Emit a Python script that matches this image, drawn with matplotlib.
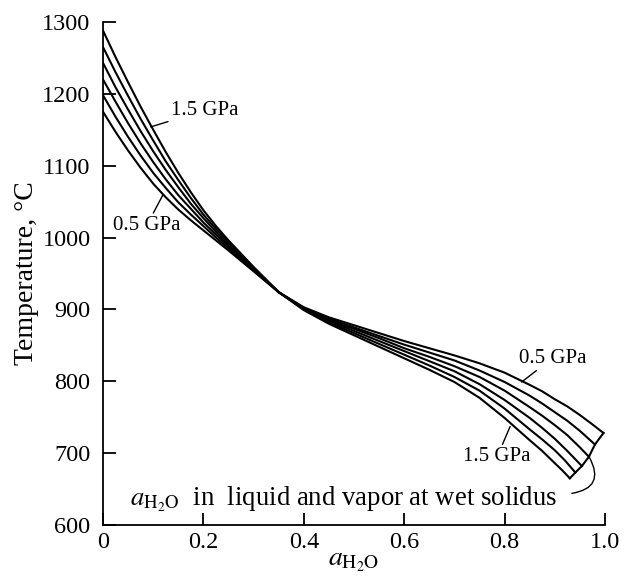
import matplotlib
matplotlib.use("Agg")
import matplotlib.pyplot as plt

plt.rcParams['font.family'] = ['Liberation Serif', 'DejaVu Serif']
plt.rcParams['mathtext.fontset'] = 'stix'

# a_H2O grid
x = [0, 0.025, 0.05, 0.075, 0.1, 0.125, 0.15, 0.175, 0.2, 0.225, 0.25,
     0.3, 0.35, 0.4, 0.45, 0.5, 0.55, 0.6, 0.65, 0.7, 0.75, 0.8,
     0.85, 0.875, 0.9]

pressures = ['0.5 GPa', '0.7 GPa', '0.9 GPa', '1.1 GPa', '1.3 GPa', '1.5 GPa']

# temperatures (deg C) along each curve
t_05 = [1175, 1147, 1121, 1097, 1075, 1056, 1039, 1024, 1010, 996, 982,
        953, 924, 903, 889, 878, 867, 856, 846, 836, 825, 812, 795, 786, 775]
t_07 = [1198, 1168, 1140, 1114, 1090, 1069, 1049, 1032, 1016, 1000, 985,
        954, 924, 902, 887, 875, 863, 851, 840, 829, 815, 799, 780, 769, 757]
t_09 = [1220, 1189, 1159, 1131, 1105, 1081, 1059, 1040, 1021, 1004, 988,
        955, 924, 901, 885, 873, 860, 846, 834, 821, 806, 787, 764, 752, 739]
t_11 = [1243, 1209, 1178, 1148, 1120, 1094, 1070, 1047, 1027, 1008, 990,
        957, 924, 901, 884, 870, 856, 842, 828, 814, 796, 774, 749, 735, 720]
t_13 = [1265, 1230, 1197, 1165, 1135, 1106, 1080, 1055, 1032, 1012, 993,
        958, 924, 900, 882, 867, 852, 837, 822, 806, 787, 762, 733, 719, 704]
t_15 = [1288, 1251, 1216, 1182, 1150, 1119, 1090, 1063, 1038, 1016, 996,
        959, 924, 899, 880, 864, 848, 832, 816, 799, 777, 749, 718, 703, 686]

# tail of each curve down to the wet solidus
tail_x = [[0.925, 0.95, 0.975, 0.997], [0.925, 0.95, 0.98], [0.925, 0.95, 0.968],
          [0.925, 0.954], [0.92, 0.941], [0.915, 0.93]]
tail_t = [[765, 753, 740, 728], [745, 731, 712], [725, 708, 695],
          [703, 682], [690, 673], [676, 665]]

curves = [t_05, t_07, t_09, t_11, t_13, t_15]

fig = plt.figure(figsize=(6.29, 5.79), dpi=100)
ax = fig.add_axes([0.1638, 0.0933, 0.798, 0.8687])

end_x, end_t = [], []
for t, tx, tt in zip(curves, tail_x, tail_t):
    ax.plot(x + tx, t + tt, color='black', lw=1.5)
    end_x.append(tx[-1])
    end_t.append(tt[-1])

# wet solidus line through the curve ends
ax.plot(end_x, end_t, color='black', lw=1.5)

fs = 15
lk = dict(arrowstyle='-', color='black', lw=1.0, shrinkA=0, shrinkB=0)
ax.annotate('1.5 GPa', xy=(0.095, 1154), xytext=(0.135, 1177), fontsize=fs,
            va='center', ha='left', arrowprops=lk)
ax.annotate('0.5 GPa', xy=(0.119, 1059), xytext=(0.02, 1017), fontsize=fs,
            va='center', ha='left', arrowprops=lk)
ax.annotate('0.5 GPa', xy=(0.834, 799), xytext=(0.828, 832), fontsize=fs,
            va='center', ha='left', arrowprops=lk)
ax.annotate('1.5 GPa', xy=(0.811, 737), xytext=(0.718, 695), fontsize=fs,
            va='center', ha='left', arrowprops=lk)

# bracket from the solidus to the bottom note
ax.annotate('', xy=(0.934, 644), xytext=(0.969, 694),
            arrowprops=dict(arrowstyle='-', color='black', lw=1.0,
                            connectionstyle='arc3,rad=-0.7', shrinkA=0, shrinkB=0))
ax.text(0.054, 636, r'$a_{\mathrm{H_2O}}$  in  liquid and vapor at wet solidus',
        fontsize=19.3, va='center', ha='left')

ax.set_xlim(0, 1.0)
ax.set_ylim(600, 1300)
ax.set_xticks([0, 0.2, 0.4, 0.6, 0.8, 1.0])
ax.set_xticklabels(['0', '0.2', '0.4', '0.6', '0.8', '1.0'])
ax.set_yticks(range(600, 1301, 100))
ax.tick_params(direction='in', length=9, width=1.3, labelsize=17.5)
ax.tick_params(axis='y', pad=9)
ax.tick_params(axis='x', pad=5)
ax.spines['top'].set_visible(False)
ax.spines['right'].set_visible(False)
ax.spines['left'].set_linewidth(1.3)
ax.spines['bottom'].set_linewidth(1.3)

ax.set_xlabel(r'$a_{\mathrm{H_2O}}$', fontsize=20, labelpad=-3)
ax.set_ylabel('Temperature, °C', fontsize=20, labelpad=2)

fig.savefig('out.png', dpi=100)
